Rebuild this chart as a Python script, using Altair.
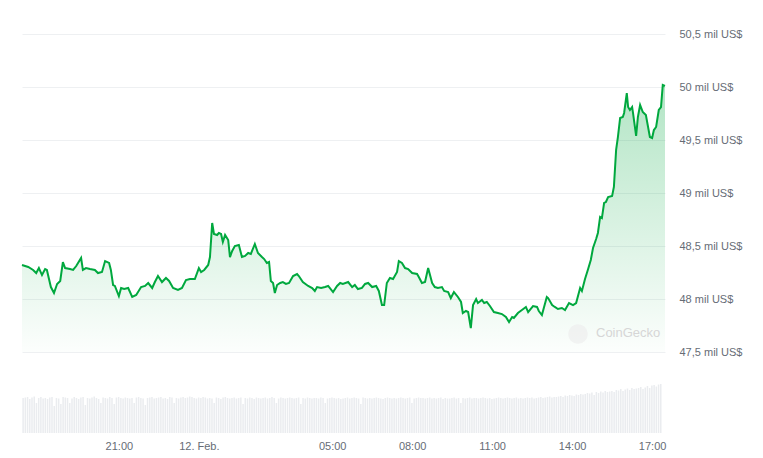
import altair as alt
import pandas as pd

start_time = "2024-02-11 17:22"

# minutes after start_time at which the price was read
price_minutes = [
    0, 14, 25, 32, 38, 45, 52, 56, 65, 72,
    79, 86, 92, 97, 108, 115, 122, 133, 137, 144,
    153, 164, 171, 180, 187, 196, 200, 205, 209, 218,
    223, 230, 239, 248, 257, 268, 277, 284, 293, 299,
    306, 315, 324, 331, 340, 351, 360, 369, 378, 389,
    398, 403, 410, 419, 423, 428, 432, 439, 443, 448,
    452, 457, 464, 468, 473, 479, 488, 495, 502, 509,
    515, 524, 531, 540, 545, 551, 556, 560, 565, 569,
    574, 581, 587, 594, 601, 610, 619, 623, 632, 644,
    653, 659, 664, 673, 682, 689, 700, 709, 716, 722,
    734, 743, 749, 756, 765, 772, 779, 788, 797, 803,
    810, 815, 821, 828, 835, 844, 848, 855, 862, 869,
    878, 889, 893, 900, 907, 914, 923, 929, 936, 945,
    950, 959, 965, 972, 981, 988, 992, 999, 1004, 1010,
    1015, 1022, 1026, 1035, 1040, 1046, 1053, 1062, 1071, 1080,
    1089, 1096, 1103, 1107, 1116, 1125, 1134, 1139, 1150, 1159,
    1163, 1170, 1181, 1184, 1193, 1199, 1206, 1215, 1222, 1231,
    1240, 1247, 1256, 1260, 1267, 1274, 1280, 1285, 1292, 1296,
    1301, 1305, 1310, 1314, 1319, 1328, 1332, 1337, 1341, 1346,
    1352, 1355, 1361, 1364, 1368, 1373, 1375, 1382, 1386, 1391,
    1397, 1404, 1413, 1418, 1422, 1427, 1433, 1438, 1442, 1447,
]

price_usd = [
    48321, 48302, 48274, 48245, 48292, 48226, 48283, 48274, 48113, 48057,
    48142, 48170, 48349, 48292, 48283, 48274, 48311, 48387, 48274, 48292,
    48283, 48274, 48245, 48255, 48358, 48340, 48274, 48132, 48123, 48028,
    48104, 48094, 48104, 48019, 48038, 48113, 48123, 48151, 48104, 48160,
    48217, 48160, 48198, 48170, 48104, 48085, 48104, 48179, 48189, 48189,
    48292, 48255, 48274, 48321, 48396, 48717, 48613, 48604, 48623, 48613,
    48538, 48604, 48557, 48396, 48453, 48500, 48509, 48396, 48406, 48434,
    48425, 48519, 48434, 48396, 48377, 48340, 48349, 48170, 48151, 48057,
    48132, 48151, 48160, 48142, 48151, 48217, 48236, 48217, 48160, 48123,
    48104, 48076, 48113, 48104, 48113, 48123, 48066, 48123, 48151, 48142,
    48160, 48113, 48132, 48094, 48104, 48142, 48151, 48113, 48123, 48076,
    47943, 47943, 48151, 48198, 48189, 48255, 48358, 48340, 48292, 48283,
    48245, 48236, 48208, 48151, 48160, 48292, 48151, 48113, 48104, 48113,
    48076, 48066, 48009, 48066, 48019, 47972, 47868, 47887, 47877, 47726,
    47943, 48000, 47962, 47991, 47962, 47972, 47934, 47877, 47868, 47858,
    47830, 47783, 47830, 47821, 47868, 47896, 47925, 47877, 47934, 47925,
    47887, 47849, 48019, 48009, 47943, 47925, 47906, 47915, 47896, 47962,
    47943, 47962, 48104, 48076, 48189, 48283, 48368, 48481, 48566, 48623,
    48774, 48764, 48906, 48915, 48962, 48972, 49057, 49406, 49528, 49708,
    49717, 49755, 49943, 49811, 49783, 49811, 49755, 49538, 49717, 49830,
    49764, 49736, 49528, 49519, 49594, 49623, 49783, 49811, 50019, 50010,
]

# 5-minute volume bars (one row per hour), estimated heights
volume_musd = [
    350, 355, 360, 340, 355, 365, 300, 350, 360, 345, 350, 340,
    355, 360, 270, 350, 345, 290, 360, 355, 350, 300, 345, 360,
    350, 340, 355, 360, 280, 350, 345, 355, 365, 350, 340, 300,
    355, 350, 345, 360, 350, 290, 355, 360, 350, 345, 355, 350,
    345, 350, 300, 355, 360, 350, 345, 280, 350, 355, 360, 345,
    350, 355, 360, 345, 350, 340, 360, 355, 300, 350, 345, 355,
    360, 350, 355, 365, 360, 350, 345, 355, 350, 360, 355, 345,
    350, 345, 300, 355, 350, 340, 355, 360, 350, 345, 350, 355,
    345, 350, 355, 290, 350, 345, 355, 350, 340, 355, 350, 345,
    350, 355, 345, 350, 360, 350, 300, 345, 355, 350, 345, 350,
    355, 350, 345, 350, 355, 290, 350, 345, 355, 350, 345, 350,
    350, 345, 355, 350, 300, 345, 350, 355, 350, 345, 350, 340,
    345, 350, 355, 345, 350, 355, 350, 345, 290, 355, 350, 345,
    350, 345, 350, 355, 350, 345, 340, 350, 355, 350, 345, 350,
    345, 350, 355, 350, 345, 350, 355, 300, 345, 350, 355, 350,
    350, 345, 350, 355, 345, 350, 345, 350, 355, 340, 350, 345,
    345, 350, 355, 345, 350, 300, 350, 345, 350, 355, 345, 350,
    350, 345, 350, 355, 350, 345, 350, 340, 345, 350, 355, 350,
    345, 350, 355, 350, 345, 350, 355, 345, 350, 345, 350, 355,
    350, 355, 345, 350, 355, 360, 350, 355, 360, 365, 355, 360,
    360, 365, 370, 360, 375, 370, 380, 375, 370, 385, 380, 390,
    385, 390, 400, 395, 405, 380, 410, 400, 415, 405, 420, 410,
    415, 420, 410, 430, 425, 440, 420, 435, 445, 430, 450, 440,
    445, 450, 460, 440, 455, 470, 450, 475, 480, 465, 485, 490,
]

price_ticks = [47500, 48000, 48500, 49000, 49500, 50000, 50500]
time_tick_hours = [21, 24, 29, 32, 35, 38, 41]  # hours after 11 Feb 00:00

t0 = pd.Timestamp(start_time)
fmt = "%Y-%m-%dT%H:%M:%S"
price_df = pd.DataFrame({
    "t": [(t0 + pd.Timedelta(minutes=m)).strftime(fmt) for m in price_minutes],
    "price": price_usd,
    "base": 47500,
})
vol_df = pd.DataFrame({
    "t": [(t0 + pd.Timedelta(minutes=2.5 + 5 * i)).strftime(fmt) for i in range(len(volume_musd))],
    "vol": volume_musd,
})


def dt(ts):
    return alt.DateTime(year=ts.year, month=ts.month, date=ts.day, hours=ts.hour, minutes=ts.minute)


t_end = t0 + pd.Timedelta(minutes=price_minutes[-1])
tick_vals = [dt(pd.Timestamp("2024-02-11") + pd.Timedelta(hours=h)) for h in time_tick_hours]

x_scale = alt.Scale(domain=[dt(t0), dt(t_end)], padding=0)
x_axis = alt.Axis(
    values=tick_vals, title=None, grid=False, ticks=False, domain=False,
    labelPadding=7, labelFontSize=11, labelColor="#666c75", labelFont="Liberation Sans",
    labelExpr="timeFormat(datum.value, '%H:%M') == '00:00' ? timeFormat(datum.value, '%-d. %b.') : timeFormat(datum.value, '%H:%M')",
)
y_scale = alt.Scale(domain=[46736, 50500], nice=False, zero=False)
y_axis = alt.Axis(
    orient="right", values=price_ticks, title=None, ticks=False, domain=False,
    grid=True, gridColor="#eef0f2", labelPadding=14, labelFontSize=11,
    labelColor="#666c75", labelFont="Liberation Sans",
    labelExpr="replace(format(datum.value / 1000, '.1~f'), '.', ',') + ' mil US$'",
)

base = alt.Chart(price_df)

area = base.mark_area(
    color=alt.Gradient(
        gradient="linear",
        stops=[
            alt.GradientStop(color="rgba(0,168,62,0.30)", offset=0),
            alt.GradientStop(color="rgba(0,168,62,0.01)", offset=1),
        ],
        x1=0, x2=0, y1=0, y2=1,
    )
).encode(
    x=alt.X("t:T", scale=x_scale, axis=x_axis),
    y=alt.Y("price:Q", scale=y_scale, axis=y_axis),
    y2="base:Q",
)

line = base.mark_line(color="#00a83e", strokeWidth=2).encode(
    x=alt.X("t:T", scale=x_scale),
    y=alt.Y("price:Q", scale=y_scale),
)

logo = alt.Chart(pd.DataFrame({"k": [1]})).mark_point(
    filled=True, shape="circle", size=380, color="#eeeeee"
).encode(x=alt.value(556), y=alt.value(300))

mark_text = alt.Chart(pd.DataFrame({"label": ["CoinGecko"]})).mark_text(
    align="left", baseline="middle", fontSize=13, color="#d6d6d6", font="Liberation Sans"
).encode(text="label:N", x=alt.value(574), y=alt.value(299))

price_layer = alt.layer(area, line, logo, mark_text)

bars = alt.Chart(vol_df).mark_bar(width=1.5, color="#eaecef").encode(
    x=alt.X("t:T", scale=x_scale),
    y=alt.Y("vol:Q", scale=alt.Scale(domain=[0, 600], range=[399, 339]), axis=None),
)

chart = alt.layer(price_layer, bars).resolve_scale(y="independent").properties(
    width=643, height=399,
    autosize=alt.AutoSizeParams(type="none"),
    padding={"left": 14, "top": 26, "right": 90, "bottom": 30},
).configure_view(stroke=None)

chart.save("out.html", embed_options={"renderer": "svg", "actions": False})
